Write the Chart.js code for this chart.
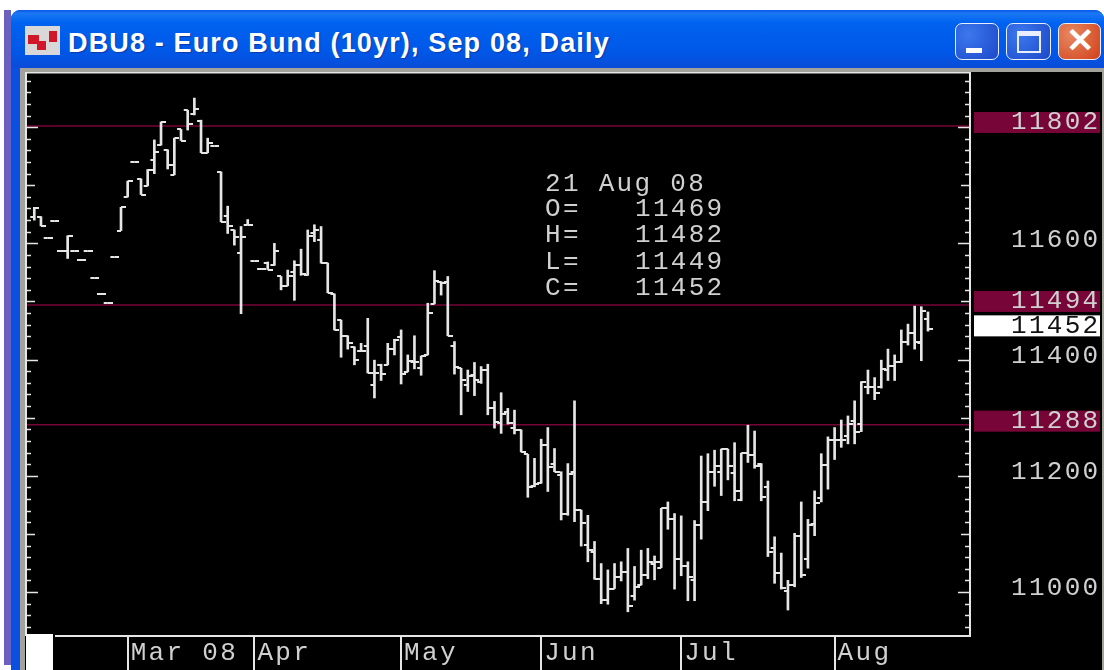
<!DOCTYPE html>
<html><head><meta charset="utf-8">
<style>
html,body{margin:0;padding:0;background:#fff;width:1104px;height:670px;overflow:hidden}
.a{position:absolute}
#c{position:absolute;left:0;top:0}
.btn{position:absolute;top:23px;height:37px;border:1.5px solid #e8eefc;border-radius:7px;box-sizing:border-box}
</style>
<script src="https://cdn.jsdelivr.net/npm/chart.js@4"></script>
</head><body>
<div class="a" style="left:4px;top:10px;width:7px;height:655px;background:#6a60c0"></div>
<div class="a" style="left:11px;top:10px;width:1093px;height:660px;background:#0a4fe0;border-top-left-radius:9px;border-top-right-radius:9px"></div>
<div class="a" style="left:11px;top:10px;width:1093px;height:58px;border-top-left-radius:9px;border-top-right-radius:9px;background:linear-gradient(#0a58e8 0,#1a78f4 6%,#0062f0 22%,#0058e8 70%,#0a4cd8 100%)"></div>
<div class="a" style="left:20px;top:68px;width:1084px;height:602px;background:#a2a29a"></div>
<div class="a" style="left:25px;top:72px;width:1077px;height:598px;background:#000"></div>
<div class="a" style="left:25px;top:26px;width:35px;height:29px;background:#d8d8d8"></div>
<div class="a" style="left:28px;top:35px;width:11px;height:9px;background:#d01828"></div>
<div class="a" style="left:37px;top:41px;width:9px;height:9px;background:#d01828"></div>
<div class="a" style="left:49px;top:31px;width:8px;height:11px;background:#d01828"></div>
<div class="a" style="left:68px;top:28px;color:#fff;font:bold 27px 'Liberation Sans',sans-serif;letter-spacing:1.15px;white-space:nowrap;text-shadow:1px 1px 1px #0a3aa8" id="t">DBU8 - Euro Bund (10yr), Sep 08, Daily</div>
<div class="btn" style="left:955px;width:44px;background:radial-gradient(circle at 30% 30%,#3c78ee,#1c48c8)"><div class="a" style="left:10px;top:24px;width:16px;height:5px;background:#fff"></div></div>
<div class="btn" style="left:1006px;width:45px;background:radial-gradient(circle at 30% 30%,#3c78ee,#1c48c8)"><div class="a" style="left:10px;top:7px;width:24px;height:22px;box-sizing:border-box;border:2px solid #e8eefc;border-top-width:5px"></div></div>
<div class="btn" style="left:1058px;width:43px;background:radial-gradient(circle at 30% 30%,#e88860,#d0401a);color:#fff;font:bold 34px 'Liberation Sans',sans-serif;line-height:33px;text-align:center">✕</div>
<canvas id="c" width="1104" height="670"></canvas>
<script>
const opens=[11646,11646,11609,11638,11586,11586,11586,11572,11586,11540,11513,11497,11576,11622,11680,11740,11711,11699,11743,11769,11761,11718,11796,11829,11823,11811,11756,11767,11723,11647,11623,11583,11632,11569,11556,11566,11562,11543,11527,11551,11563,11545,11617,11606,
11566,11513,11468,11441,11422,11415,11423,11356,11391,11391,11419,11439,11379,11396,11385,11408,11496,11534,11534,11423,11385,11356,11373,11362,11382,11316,11291,11309,11283,11279,11237,11182,11187,11253,11221,11201,11135,11207,11141,11081,11069,11022,10987,11006,11026,11035,10993,11012,11029,
11049,11042,11144,11125,11056,11045,11020,11115,11155,11207,11207,11246,11204,11159,11239,11236,11220,11180,11075,11032,11001,11012,11096,11056,11117,11161,11219,11262,11262,11269,11295,11289,11353,11353,11352,11382,11389,11395,11431,11446,11429,11469];
const highs=[11662,11646,11609,11638,11586,11613,11586,11572,11586,11540,11513,11497,11576,11662,11707,11740,11711,11727,11778,11809,11761,11781,11796,11829,11850,11812,11781,11767,11723,11664,11623,11629,11641,11569,11556,11568,11600,11543,11554,11570,11590,11623,11632,11629,
11566,11513,11468,11441,11422,11428,11471,11399,11392,11428,11435,11451,11408,11441,11406,11497,11553,11534,11543,11431,11385,11382,11395,11388,11392,11328,11343,11316,11313,11279,11237,11230,11263,11283,11247,11207,11221,11329,11141,11132,11087,11049,11038,11049,11052,11075,11044,11072,11075,
11062,11144,11155,11135,11131,11052,11123,11234,11238,11244,11246,11246,11257,11239,11287,11277,11221,11191,11095,11067,11020,11101,11155,11125,11174,11238,11267,11283,11296,11303,11329,11362,11382,11369,11399,11418,11408,11451,11461,11492,11491,11482];
const lows=[11640,11630,11609,11638,11586,11574,11586,11572,11586,11540,11513,11497,11576,11622,11680,11740,11684,11699,11720,11769,11728,11718,11777,11795,11821,11756,11756,11767,11637,11617,11597,11479,11632,11569,11556,11555,11562,11520,11527,11502,11545,11545,11603,11566,
11515,11451,11404,11418,11391,11414,11377,11334,11364,11391,11408,11358,11379,11384,11373,11408,11496,11511,11441,11375,11305,11345,11338,11359,11305,11282,11273,11289,11272,11241,11163,11181,11187,11173,11207,11124,11132,11121,11079,11052,11022,10980,10979,11006,11019,10966,10986,11012,11023,
11021,11042,11108,11005,11028,10985,10985,11091,11140,11182,11166,11193,11157,11157,11223,11213,11157,11061,11015,11005,10969,11009,11025,11041,11097,11155,11177,11228,11249,11255,11255,11276,11341,11331,11351,11364,11364,11395,11425,11418,11398,11449];
const closes=[11660,11630,11609,11638,11586,11613,11586,11572,11586,11540,11513,11497,11576,11662,11707,11740,11684,11727,11758,11809,11735,11781,11777,11805,11832,11756,11772,11767,11637,11630,11611,11611,11632,11569,11556,11555,11586,11527,11543,11563,11547,11613,11623,11566,
11515,11451,11441,11429,11400,11415,11377,11377,11375,11419,11433,11375,11398,11395,11406,11480,11536,11531,11441,11388,11365,11371,11365,11382,11316,11293,11307,11290,11279,11241,11181,11186,11253,11215,11207,11134,11203,11141,11119,11072,11022,10987,11006,11026,11035,10976,11009,11029,11052,
11051,11144,11125,11056,11045,11026,11115,11155,11207,11217,11246,11217,11174,11239,11236,11216,11164,11069,11032,11007,11012,11096,11029,11115,11154,11219,11262,11262,11262,11289,11276,11362,11352,11342,11383,11389,11396,11431,11446,11431,11484,11452];
const monthLabels=['Mar 08','Apr','May','Jun','Jul','Aug'];
const monthStarts=[14,33,55,76,97,120];
const levels=[11802,11494,11288];
const lastClose=11452;
const axisLabels=[11802,11600,11494,11452,11400,11288,11200,11000];
const infoLines=[['O=','11469'],['H=','11482'],['L=','11449'],['C=','11452']];
const infoDate='21 Aug 08';

const WHITE='#e6e6e6',MAROON='#780538',TXT='#d0d0d0',FONT="'Liberation Mono',monospace",SPACING='2.3px';
function tickImg(side){const c=document.createElement('canvas');c.width=10;c.height=2;const g=c.getContext('2d');g.fillStyle=WHITE;if(side<0)g.fillRect(1,0,4,2);else g.fillRect(5,0,5,2);return c;}
const xs=opens.map((_,i)=>i);
const X_MIN=-1.244,X_MAX=140.3;
const frame={id:'frame',
 beforeDraw(ch){
  const g=ch.ctx,y=ch.scales.y;
  g.letterSpacing=SPACING;
  axisLabels.forEach(v=>{
   const isLevel=levels.includes(v);
   if(!isLevel&&v!==lastClose)return;
   const p=y.getPixelForValue(v)-3.5;
   g.fillStyle=isLevel?MAROON:'#fff';
   g.fillRect(974,p-10.5,126,21);
  });
 },
 afterDraw(ch){
  const g=ch.ctx,y=ch.scales.y,a=ch.chartArea;
  g.save();
  g.fillStyle=WHITE;
  g.fillRect(25,72,2,a.bottom-72);
  g.fillRect(25,72,a.right-25+1,1.5);
  g.fillRect(a.right-1,72,2,a.bottom-72+1);
  g.fillRect(55,a.bottom-1,a.right-55+1,2);
  for(let v=Math.ceil(y.min/20)*20;v<=y.max;v+=20){
   const p=Math.round(y.getPixelForValue(v))+.5,
     len=v%200===0?12:(v%100===0?9:5);
   g.fillRect(26,p-.75,len,1.5);
   g.fillRect(a.right-len,p-.75,len,1.5);
  }
  g.fillStyle='#fff';g.fillRect(26,634,27,36);
  g.fillStyle=TXT;g.font='26px '+FONT;g.letterSpacing=SPACING;g.textBaseline='middle';g.textAlign='left';
  g.fillText(infoDate,545,184);
  infoLines.forEach((l,i)=>{
   const yy=209+i*26.4;
   g.fillText(l[0],545,yy);
   g.fillText(l[1],635,yy);
  });
  g.restore();
 }};
const datasets=[];
levels.forEach(l=>datasets.push({type:'line',data:[{x:X_MIN,y:l},{x:X_MAX,y:l}],borderColor:MAROON,borderWidth:1.5,pointRadius:0,order:3}));
datasets.push({type:'bar',data:xs.map(i=>({x:i,y:[lows[i],highs[i]]})),backgroundColor:WHITE,barThickness:2,minBarLength:0,order:2,borderWidth:0});
datasets.push({type:'line',data:xs.map(i=>({x:i,y:opens[i]})),showLine:false,pointStyle:tickImg(-1),pointRadius:3,order:1});
datasets.push({type:'line',data:xs.map(i=>({x:i,y:closes[i]})),showLine:false,pointStyle:tickImg(1),pointRadius:3,order:1});
new Chart(document.getElementById('c'),{
 type:'bar',
 data:{datasets},
 plugins:[frame],
 options:{
  responsive:false,animation:false,
  layout:{padding:{left:26,top:72,right:0,bottom:0}},
  plugins:{legend:{display:false},tooltip:{enabled:false},title:{display:false}},
  scales:{
   x:{type:'linear',offset:false,min:X_MIN,max:X_MAX,position:'bottom',
    afterFit(s){s.height=34;s.paddingLeft=0;s.paddingRight=0;},
    afterBuildTicks(s){s.ticks=monthStarts.map(v=>({value:v}));},
    border:{display:false},
    grid:{offset:false,drawOnChartArea:false,drawTicks:true,tickLength:34,color:WHITE,lineWidth:2},
    ticks:{autoSkip:false,maxRotation:0,minRotation:0,align:'start',labelOffset:3,padding:-32,color:TXT,font:{family:FONT,size:26},
     callback:(v)=>monthLabels[monthStarts.indexOf(v)]}},
   y:{type:'linear',position:'right',min:10924.3,max:11894.9,
    afterFit(s){s.width=134;s.paddingTop=0;s.paddingBottom=0;},
    afterBuildTicks(s){s.ticks=axisLabels.map(v=>({value:v}));},
    border:{display:false},
    grid:{display:false,drawTicks:false},
    ticks:{autoSkip:false,padding:41,labelOffset:-3.5,font:{family:FONT,size:26},
     color:c=>c.tick.value===lastClose?'#111':TXT,
     callback:v=>String(v)}}
  }
 }
});
</script>
</body></html>
